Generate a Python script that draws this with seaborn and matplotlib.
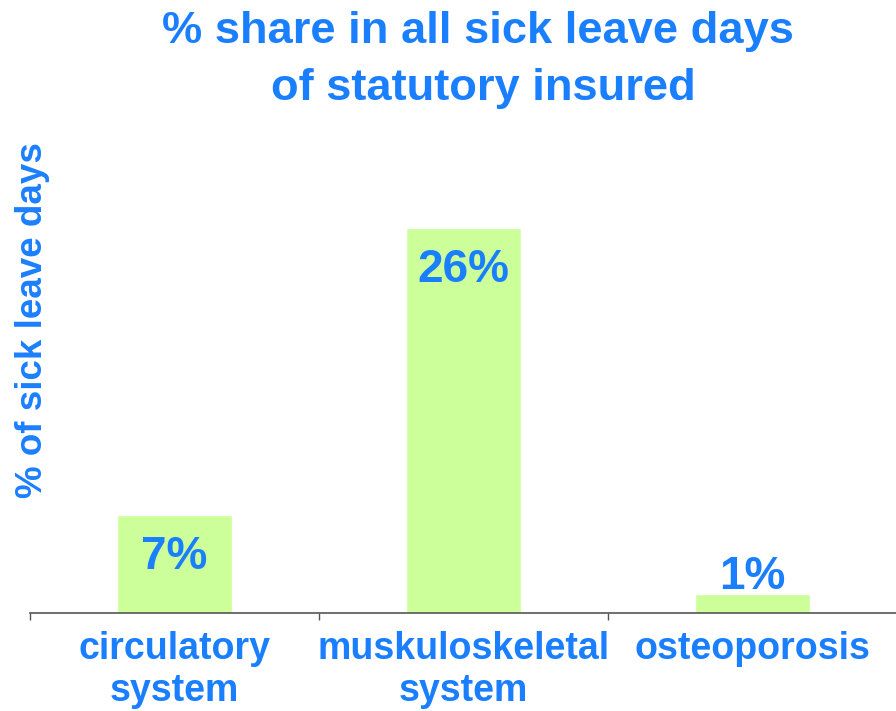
import matplotlib
matplotlib.use("Agg")
import matplotlib.pyplot as plt
import seaborn as sns
import pandas as pd
from matplotlib.ticker import FixedLocator

categories = ["circulatory\nsystem", "muskuloskeletal\nsystem", "osteoporosis"]
values = [6.6, 26.0, 1.3]
value_labels = ["7%", "26%", "1%"]
title_lines = ["% share in all sick leave days", "of statutory insured"]
y_title = "% of sick leave days"

blue = "#1a7fff"
green = "#ccff99"

sns.set_theme(style="white")
plt.rcParams["font.family"] = ["Liberation Sans", "DejaVu Sans"]

df = pd.DataFrame({"category": categories, "share": values})

fig = plt.figure(figsize=(8.96, 7.11), dpi=100)
ax = fig.add_axes([30 / 896, (711 - 613) / 711, 867 / 896, 483 / 711])

sns.barplot(data=df, x="category", y="share", color=green, width=0.4,
            saturation=1, ax=ax)

ax.set_xlim(-0.5, 2.5)
ax.set_ylim(0, 32.6)

for spine in ["top", "right", "left"]:
    ax.spines[spine].set_visible(False)
ax.spines["bottom"].set_color("#555555")
ax.spines["bottom"].set_linewidth(1.2)

ax.set_yticks([])
ax.set_ylabel("")
ax.set_xlabel("")
ax.tick_params(axis="x", which="major", length=0, pad=13)
ax.xaxis.set_minor_locator(FixedLocator([-0.5, 0.5, 1.5, 2.5]))
ax.tick_params(axis="x", which="minor", length=5, width=1, color="#555555",
               direction="out", bottom=True)
for lbl in ax.get_xticklabels():
    lbl.set_fontweight("bold")
    lbl.set_fontsize(27)
    lbl.set_color(blue)
    lbl.set_linespacing(1.22)

# value labels: inside the bar near its top, above it when the bar is short
for patch, text, v in zip(ax.patches, value_labels, values):
    cx = patch.get_x() + patch.get_width() / 2
    if v > 3:
        dy = -39
    else:
        dy = 3.2
    ax.annotate(text, (cx, v), xytext=(0, dy), textcoords="offset points",
                ha="center", va="baseline", fontsize=33, fontweight="bold",
                color=blue)

fig.text(478 / 896, 1 - 43 / 711, title_lines[0], ha="center", va="baseline",
         fontsize=32.6, fontweight="bold", color=blue)
fig.text(483 / 896, 1 - 100 / 711, title_lines[1], ha="center", va="baseline",
         fontsize=32.6, fontweight="bold", color=blue)

fig.text(33 / 896, 1 - 320 / 711, y_title, rotation=90, ha="center",
         va="center", fontsize=26.5, fontweight="bold", color=blue)

fig.savefig("out.png", dpi=100)
